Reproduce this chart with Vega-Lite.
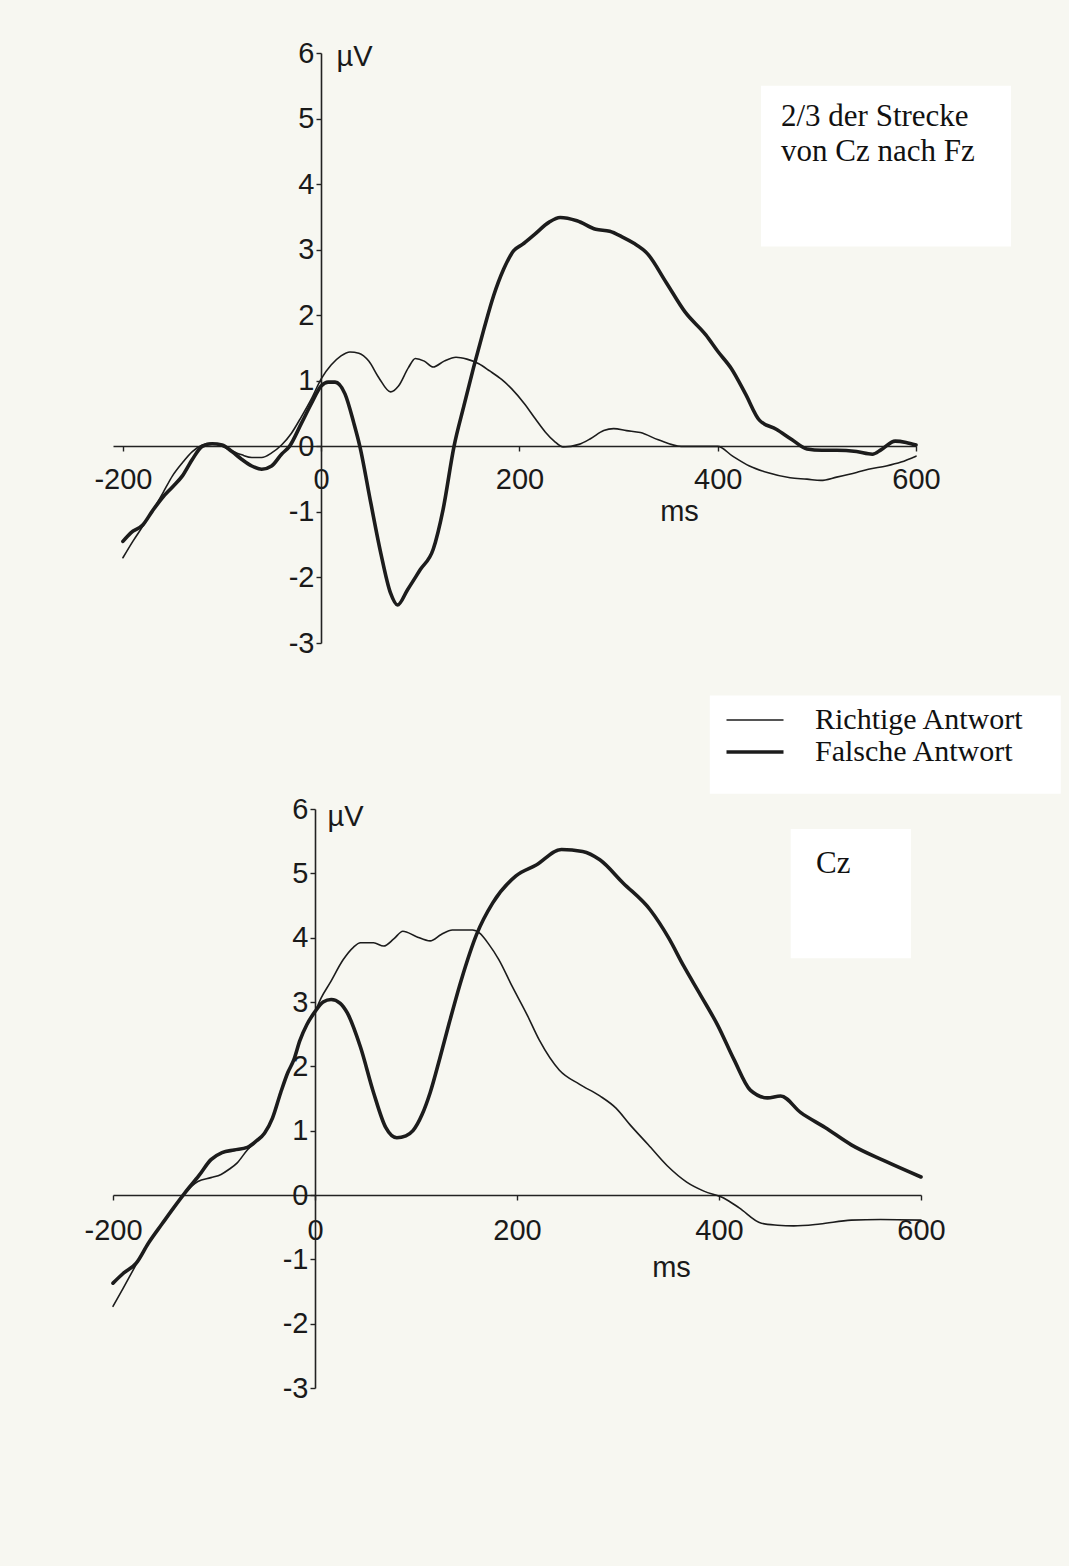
{
 "$schema": "https://vega.github.io/schema/vega-lite/v6.json",
 "background": "#f7f7f1",
 "padding": {"left": 83, "top": 39, "right": 59, "bottom": 166},
 "config": {"view": {"stroke": null}, "axis": {"grid": false}},
 "bounds": "flush",
 "spacing": 166,
 "datasets": {
  "erp": [
   {"panel":"top","cond":"Richtige Antwort","ms":-200,"uv":-1.70},{"panel":"top","cond":"Richtige Antwort","ms":-190,"uv":-1.45},{"panel":"top","cond":"Richtige Antwort","ms":-180,"uv":-1.22},{"panel":"top","cond":"Richtige Antwort","ms":-170,"uv":-0.98},{"panel":"top","cond":"Richtige Antwort","ms":-160,"uv":-0.72},{"panel":"top","cond":"Richtige Antwort","ms":-150,"uv":-0.45},{"panel":"top","cond":"Richtige Antwort","ms":-140,"uv":-0.25},{"panel":"top","cond":"Richtige Antwort","ms":-130,"uv":-0.08},{"panel":"top","cond":"Richtige Antwort","ms":-120,"uv":0.02},{"panel":"top","cond":"Richtige Antwort","ms":-112,"uv":0.05},{"panel":"top","cond":"Richtige Antwort","ms":-100,"uv":0.0},{"panel":"top","cond":"Richtige Antwort","ms":-90,"uv":-0.07},{"panel":"top","cond":"Richtige Antwort","ms":-80,"uv":-0.13},{"panel":"top","cond":"Richtige Antwort","ms":-70,"uv":-0.17},{"panel":"top","cond":"Richtige Antwort","ms":-60,"uv":-0.17},{"panel":"top","cond":"Richtige Antwort","ms":-50,"uv":-0.1},{"panel":"top","cond":"Richtige Antwort","ms":-40,"uv":0.02},{"panel":"top","cond":"Richtige Antwort","ms":-30,"uv":0.2},{"panel":"top","cond":"Richtige Antwort","ms":-20,"uv":0.45},{"panel":"top","cond":"Richtige Antwort","ms":-10,"uv":0.72},{"panel":"top","cond":"Richtige Antwort","ms":0,"uv":1.03},{"panel":"top","cond":"Richtige Antwort","ms":10,"uv":1.24},{"panel":"top","cond":"Richtige Antwort","ms":20,"uv":1.38},{"panel":"top","cond":"Richtige Antwort","ms":29,"uv":1.44},{"panel":"top","cond":"Richtige Antwort","ms":38,"uv":1.42},{"panel":"top","cond":"Richtige Antwort","ms":48,"uv":1.3},{"panel":"top","cond":"Richtige Antwort","ms":58,"uv":1.05},{"panel":"top","cond":"Richtige Antwort","ms":70,"uv":0.83},{"panel":"top","cond":"Richtige Antwort","ms":78,"uv":0.92},{"panel":"top","cond":"Richtige Antwort","ms":88,"uv":1.2},{"panel":"top","cond":"Richtige Antwort","ms":95,"uv":1.34},{"panel":"top","cond":"Richtige Antwort","ms":104,"uv":1.3},{"panel":"top","cond":"Richtige Antwort","ms":113,"uv":1.21},{"panel":"top","cond":"Richtige Antwort","ms":124,"uv":1.3},{"panel":"top","cond":"Richtige Antwort","ms":136,"uv":1.36},{"panel":"top","cond":"Richtige Antwort","ms":147,"uv":1.33},{"panel":"top","cond":"Richtige Antwort","ms":159,"uv":1.26},{"panel":"top","cond":"Richtige Antwort","ms":170,"uv":1.15},{"panel":"top","cond":"Richtige Antwort","ms":182,"uv":1.02},{"panel":"top","cond":"Richtige Antwort","ms":192,"uv":0.88},{"panel":"top","cond":"Richtige Antwort","ms":205,"uv":0.65},{"panel":"top","cond":"Richtige Antwort","ms":216,"uv":0.42},{"panel":"top","cond":"Richtige Antwort","ms":226,"uv":0.22},{"panel":"top","cond":"Richtige Antwort","ms":235,"uv":0.08},{"panel":"top","cond":"Richtige Antwort","ms":244,"uv":-0.01},{"panel":"top","cond":"Richtige Antwort","ms":260,"uv":0.03},{"panel":"top","cond":"Richtige Antwort","ms":272,"uv":0.12},{"panel":"top","cond":"Richtige Antwort","ms":285,"uv":0.24},{"panel":"top","cond":"Richtige Antwort","ms":295,"uv":0.27},{"panel":"top","cond":"Richtige Antwort","ms":308,"uv":0.24},{"panel":"top","cond":"Richtige Antwort","ms":322,"uv":0.21},{"panel":"top","cond":"Richtige Antwort","ms":340,"uv":0.1},{"panel":"top","cond":"Richtige Antwort","ms":363,"uv":0.0},{"panel":"top","cond":"Richtige Antwort","ms":380,"uv":0.0},{"panel":"top","cond":"Richtige Antwort","ms":400,"uv":0.0},{"panel":"top","cond":"Richtige Antwort","ms":415,"uv":-0.15},{"panel":"top","cond":"Richtige Antwort","ms":432,"uv":-0.3},{"panel":"top","cond":"Richtige Antwort","ms":450,"uv":-0.4},{"panel":"top","cond":"Richtige Antwort","ms":473,"uv":-0.48},{"panel":"top","cond":"Richtige Antwort","ms":490,"uv":-0.5},{"panel":"top","cond":"Richtige Antwort","ms":504,"uv":-0.52},{"panel":"top","cond":"Richtige Antwort","ms":520,"uv":-0.47},{"panel":"top","cond":"Richtige Antwort","ms":540,"uv":-0.4},{"panel":"top","cond":"Richtige Antwort","ms":552,"uv":-0.35},{"panel":"top","cond":"Richtige Antwort","ms":570,"uv":-0.3},{"panel":"top","cond":"Richtige Antwort","ms":585,"uv":-0.24},{"panel":"top","cond":"Richtige Antwort","ms":600,"uv":-0.15},
   {"panel":"top","cond":"Falsche Antwort","ms":-200,"uv":-1.45},{"panel":"top","cond":"Falsche Antwort","ms":-192,"uv":-1.32},{"panel":"top","cond":"Falsche Antwort","ms":-180,"uv":-1.2},{"panel":"top","cond":"Falsche Antwort","ms":-170,"uv":-0.98},{"panel":"top","cond":"Falsche Antwort","ms":-160,"uv":-0.78},{"panel":"top","cond":"Falsche Antwort","ms":-150,"uv":-0.62},{"panel":"top","cond":"Falsche Antwort","ms":-140,"uv":-0.45},{"panel":"top","cond":"Falsche Antwort","ms":-130,"uv":-0.2},{"panel":"top","cond":"Falsche Antwort","ms":-120,"uv":0.0},{"panel":"top","cond":"Falsche Antwort","ms":-110,"uv":0.04},{"panel":"top","cond":"Falsche Antwort","ms":-100,"uv":0.02},{"panel":"top","cond":"Falsche Antwort","ms":-90,"uv":-0.08},{"panel":"top","cond":"Falsche Antwort","ms":-80,"uv":-0.2},{"panel":"top","cond":"Falsche Antwort","ms":-70,"uv":-0.3},{"panel":"top","cond":"Falsche Antwort","ms":-60,"uv":-0.35},{"panel":"top","cond":"Falsche Antwort","ms":-50,"uv":-0.3},{"panel":"top","cond":"Falsche Antwort","ms":-40,"uv":-0.12},{"panel":"top","cond":"Falsche Antwort","ms":-32,"uv":0.0},{"panel":"top","cond":"Falsche Antwort","ms":-20,"uv":0.35},{"panel":"top","cond":"Falsche Antwort","ms":-10,"uv":0.65},{"panel":"top","cond":"Falsche Antwort","ms":0,"uv":0.92},{"panel":"top","cond":"Falsche Antwort","ms":7,"uv":0.98},{"panel":"top","cond":"Falsche Antwort","ms":14,"uv":0.98},{"panel":"top","cond":"Falsche Antwort","ms":24,"uv":0.8},{"panel":"top","cond":"Falsche Antwort","ms":33,"uv":0.35},{"panel":"top","cond":"Falsche Antwort","ms":39,"uv":0.0},{"panel":"top","cond":"Falsche Antwort","ms":50,"uv":-0.86},{"panel":"top","cond":"Falsche Antwort","ms":60,"uv":-1.62},{"panel":"top","cond":"Falsche Antwort","ms":70,"uv":-2.24},{"panel":"top","cond":"Falsche Antwort","ms":77,"uv":-2.42},{"panel":"top","cond":"Falsche Antwort","ms":87,"uv":-2.19},{"panel":"top","cond":"Falsche Antwort","ms":100,"uv":-1.88},{"panel":"top","cond":"Falsche Antwort","ms":113,"uv":-1.57},{"panel":"top","cond":"Falsche Antwort","ms":123,"uv":-0.96},{"panel":"top","cond":"Falsche Antwort","ms":134,"uv":0.0},{"panel":"top","cond":"Falsche Antwort","ms":144,"uv":0.62},{"panel":"top","cond":"Falsche Antwort","ms":154,"uv":1.22},{"panel":"top","cond":"Falsche Antwort","ms":164,"uv":1.78},{"panel":"top","cond":"Falsche Antwort","ms":174,"uv":2.3},{"panel":"top","cond":"Falsche Antwort","ms":184,"uv":2.7},{"panel":"top","cond":"Falsche Antwort","ms":194,"uv":2.98},{"panel":"top","cond":"Falsche Antwort","ms":203,"uv":3.08},{"panel":"top","cond":"Falsche Antwort","ms":215,"uv":3.23},{"panel":"top","cond":"Falsche Antwort","ms":230,"uv":3.42},{"panel":"top","cond":"Falsche Antwort","ms":241,"uv":3.49},{"panel":"top","cond":"Falsche Antwort","ms":258,"uv":3.44},{"panel":"top","cond":"Falsche Antwort","ms":277,"uv":3.31},{"panel":"top","cond":"Falsche Antwort","ms":291,"uv":3.28},{"panel":"top","cond":"Falsche Antwort","ms":303,"uv":3.2},{"panel":"top","cond":"Falsche Antwort","ms":315,"uv":3.1},{"panel":"top","cond":"Falsche Antwort","ms":329,"uv":2.94},{"panel":"top","cond":"Falsche Antwort","ms":348,"uv":2.5},{"panel":"top","cond":"Falsche Antwort","ms":367,"uv":2.05},{"panel":"top","cond":"Falsche Antwort","ms":388,"uv":1.7},{"panel":"top","cond":"Falsche Antwort","ms":400,"uv":1.45},{"panel":"top","cond":"Falsche Antwort","ms":414,"uv":1.18},{"panel":"top","cond":"Falsche Antwort","ms":428,"uv":0.8},{"panel":"top","cond":"Falsche Antwort","ms":442,"uv":0.4},{"panel":"top","cond":"Falsche Antwort","ms":459,"uv":0.26},{"panel":"top","cond":"Falsche Antwort","ms":475,"uv":0.1},{"panel":"top","cond":"Falsche Antwort","ms":490,"uv":-0.04},{"panel":"top","cond":"Falsche Antwort","ms":505,"uv":-0.06},{"panel":"top","cond":"Falsche Antwort","ms":520,"uv":-0.06},{"panel":"top","cond":"Falsche Antwort","ms":540,"uv":-0.08},{"panel":"top","cond":"Falsche Antwort","ms":556,"uv":-0.12},{"panel":"top","cond":"Falsche Antwort","ms":565,"uv":-0.05},{"panel":"top","cond":"Falsche Antwort","ms":579,"uv":0.08},{"panel":"top","cond":"Falsche Antwort","ms":590,"uv":0.06},{"panel":"top","cond":"Falsche Antwort","ms":600,"uv":0.02},
   {"panel":"bottom","cond":"Richtige Antwort","ms":-200,"uv":-1.73},{"panel":"bottom","cond":"Richtige Antwort","ms":-190,"uv":-1.45},{"panel":"bottom","cond":"Richtige Antwort","ms":-177,"uv":-1.08},{"panel":"bottom","cond":"Richtige Antwort","ms":-165,"uv":-0.75},{"panel":"bottom","cond":"Richtige Antwort","ms":-151,"uv":-0.44},{"panel":"bottom","cond":"Richtige Antwort","ms":-140,"uv":-0.2},{"panel":"bottom","cond":"Richtige Antwort","ms":-129,"uv":0.03},{"panel":"bottom","cond":"Richtige Antwort","ms":-116,"uv":0.21},{"panel":"bottom","cond":"Richtige Antwort","ms":-103,"uv":0.27},{"panel":"bottom","cond":"Richtige Antwort","ms":-93,"uv":0.32},{"panel":"bottom","cond":"Richtige Antwort","ms":-85,"uv":0.4},{"panel":"bottom","cond":"Richtige Antwort","ms":-77,"uv":0.5},{"panel":"bottom","cond":"Richtige Antwort","ms":-67,"uv":0.7},{"panel":"bottom","cond":"Richtige Antwort","ms":-58,"uv":0.84},{"panel":"bottom","cond":"Richtige Antwort","ms":-50,"uv":0.96},{"panel":"bottom","cond":"Richtige Antwort","ms":-42,"uv":1.2},{"panel":"bottom","cond":"Richtige Antwort","ms":-34,"uv":1.59},{"panel":"bottom","cond":"Richtige Antwort","ms":-27,"uv":1.9},{"panel":"bottom","cond":"Richtige Antwort","ms":-21,"uv":2.1},{"panel":"bottom","cond":"Richtige Antwort","ms":-15,"uv":2.4},{"panel":"bottom","cond":"Richtige Antwort","ms":-8,"uv":2.65},{"panel":"bottom","cond":"Richtige Antwort","ms":0,"uv":2.85},{"panel":"bottom","cond":"Richtige Antwort","ms":6,"uv":3.06},{"panel":"bottom","cond":"Richtige Antwort","ms":15,"uv":3.3},{"panel":"bottom","cond":"Richtige Antwort","ms":28,"uv":3.66},{"panel":"bottom","cond":"Richtige Antwort","ms":38,"uv":3.85},{"panel":"bottom","cond":"Richtige Antwort","ms":45,"uv":3.92},{"panel":"bottom","cond":"Richtige Antwort","ms":58,"uv":3.92},{"panel":"bottom","cond":"Richtige Antwort","ms":68,"uv":3.87},{"panel":"bottom","cond":"Richtige Antwort","ms":78,"uv":3.98},{"panel":"bottom","cond":"Richtige Antwort","ms":87,"uv":4.1},{"panel":"bottom","cond":"Richtige Antwort","ms":100,"uv":4.02},{"panel":"bottom","cond":"Richtige Antwort","ms":114,"uv":3.95},{"panel":"bottom","cond":"Richtige Antwort","ms":125,"uv":4.05},{"panel":"bottom","cond":"Richtige Antwort","ms":136,"uv":4.12},{"panel":"bottom","cond":"Richtige Antwort","ms":156,"uv":4.12},{"panel":"bottom","cond":"Richtige Antwort","ms":163,"uv":4.07},{"panel":"bottom","cond":"Richtige Antwort","ms":172,"uv":3.9},{"panel":"bottom","cond":"Richtige Antwort","ms":182,"uv":3.66},{"panel":"bottom","cond":"Richtige Antwort","ms":195,"uv":3.25},{"panel":"bottom","cond":"Richtige Antwort","ms":210,"uv":2.8},{"panel":"bottom","cond":"Richtige Antwort","ms":222,"uv":2.41},{"panel":"bottom","cond":"Richtige Antwort","ms":242,"uv":1.94},{"panel":"bottom","cond":"Richtige Antwort","ms":262,"uv":1.72},{"panel":"bottom","cond":"Richtige Antwort","ms":282,"uv":1.54},{"panel":"bottom","cond":"Richtige Antwort","ms":298,"uv":1.35},{"panel":"bottom","cond":"Richtige Antwort","ms":312,"uv":1.09},{"panel":"bottom","cond":"Richtige Antwort","ms":330,"uv":0.78},{"panel":"bottom","cond":"Richtige Antwort","ms":349,"uv":0.45},{"panel":"bottom","cond":"Richtige Antwort","ms":368,"uv":0.2},{"panel":"bottom","cond":"Richtige Antwort","ms":385,"uv":0.06},{"panel":"bottom","cond":"Richtige Antwort","ms":405,"uv":-0.05},{"panel":"bottom","cond":"Richtige Antwort","ms":420,"uv":-0.2},{"panel":"bottom","cond":"Richtige Antwort","ms":442,"uv":-0.44},{"panel":"bottom","cond":"Richtige Antwort","ms":458,"uv":-0.47},{"panel":"bottom","cond":"Richtige Antwort","ms":474,"uv":-0.48},{"panel":"bottom","cond":"Richtige Antwort","ms":500,"uv":-0.45},{"panel":"bottom","cond":"Richtige Antwort","ms":531,"uv":-0.39},{"panel":"bottom","cond":"Richtige Antwort","ms":560,"uv":-0.38},{"panel":"bottom","cond":"Richtige Antwort","ms":600,"uv":-0.39},
   {"panel":"bottom","cond":"Falsche Antwort","ms":-200,"uv":-1.37},{"panel":"bottom","cond":"Falsche Antwort","ms":-190,"uv":-1.22},{"panel":"bottom","cond":"Falsche Antwort","ms":-177,"uv":-1.06},{"panel":"bottom","cond":"Falsche Antwort","ms":-165,"uv":-0.75},{"panel":"bottom","cond":"Falsche Antwort","ms":-151,"uv":-0.44},{"panel":"bottom","cond":"Falsche Antwort","ms":-140,"uv":-0.2},{"panel":"bottom","cond":"Falsche Antwort","ms":-129,"uv":0.03},{"panel":"bottom","cond":"Falsche Antwort","ms":-115,"uv":0.3},{"panel":"bottom","cond":"Falsche Antwort","ms":-103,"uv":0.55},{"panel":"bottom","cond":"Falsche Antwort","ms":-92,"uv":0.66},{"panel":"bottom","cond":"Falsche Antwort","ms":-80,"uv":0.7},{"panel":"bottom","cond":"Falsche Antwort","ms":-67,"uv":0.74},{"panel":"bottom","cond":"Falsche Antwort","ms":-58,"uv":0.84},{"panel":"bottom","cond":"Falsche Antwort","ms":-50,"uv":0.96},{"panel":"bottom","cond":"Falsche Antwort","ms":-42,"uv":1.2},{"panel":"bottom","cond":"Falsche Antwort","ms":-34,"uv":1.59},{"panel":"bottom","cond":"Falsche Antwort","ms":-27,"uv":1.9},{"panel":"bottom","cond":"Falsche Antwort","ms":-21,"uv":2.1},{"panel":"bottom","cond":"Falsche Antwort","ms":-15,"uv":2.4},{"panel":"bottom","cond":"Falsche Antwort","ms":-8,"uv":2.65},{"panel":"bottom","cond":"Falsche Antwort","ms":0,"uv":2.85},{"panel":"bottom","cond":"Falsche Antwort","ms":8,"uv":3.0},{"panel":"bottom","cond":"Falsche Antwort","ms":16,"uv":3.04},{"panel":"bottom","cond":"Falsche Antwort","ms":25,"uv":2.98},{"panel":"bottom","cond":"Falsche Antwort","ms":32,"uv":2.83},{"panel":"bottom","cond":"Falsche Antwort","ms":45,"uv":2.3},{"panel":"bottom","cond":"Falsche Antwort","ms":58,"uv":1.59},{"panel":"bottom","cond":"Falsche Antwort","ms":70,"uv":1.05},{"panel":"bottom","cond":"Falsche Antwort","ms":81,"uv":0.89},{"panel":"bottom","cond":"Falsche Antwort","ms":90,"uv":0.92},{"panel":"bottom","cond":"Falsche Antwort","ms":97,"uv":1.0},{"panel":"bottom","cond":"Falsche Antwort","ms":106,"uv":1.25},{"panel":"bottom","cond":"Falsche Antwort","ms":114,"uv":1.59},{"panel":"bottom","cond":"Falsche Antwort","ms":124,"uv":2.15},{"panel":"bottom","cond":"Falsche Antwort","ms":133,"uv":2.68},{"panel":"bottom","cond":"Falsche Antwort","ms":145,"uv":3.35},{"panel":"bottom","cond":"Falsche Antwort","ms":160,"uv":4.05},{"panel":"bottom","cond":"Falsche Antwort","ms":176,"uv":4.54},{"panel":"bottom","cond":"Falsche Antwort","ms":199,"uv":4.96},{"panel":"bottom","cond":"Falsche Antwort","ms":219,"uv":5.13},{"panel":"bottom","cond":"Falsche Antwort","ms":244,"uv":5.37},{"panel":"bottom","cond":"Falsche Antwort","ms":265,"uv":5.34},{"panel":"bottom","cond":"Falsche Antwort","ms":282,"uv":5.21},{"panel":"bottom","cond":"Falsche Antwort","ms":305,"uv":4.85},{"panel":"bottom","cond":"Falsche Antwort","ms":332,"uv":4.43},{"panel":"bottom","cond":"Falsche Antwort","ms":350,"uv":4.0},{"panel":"bottom","cond":"Falsche Antwort","ms":365,"uv":3.56},{"panel":"bottom","cond":"Falsche Antwort","ms":382,"uv":3.1},{"panel":"bottom","cond":"Falsche Antwort","ms":399,"uv":2.63},{"panel":"bottom","cond":"Falsche Antwort","ms":415,"uv":2.1},{"panel":"bottom","cond":"Falsche Antwort","ms":431,"uv":1.63},{"panel":"bottom","cond":"Falsche Antwort","ms":448,"uv":1.51},{"panel":"bottom","cond":"Falsche Antwort","ms":461,"uv":1.54},{"panel":"bottom","cond":"Falsche Antwort","ms":481,"uv":1.28},{"panel":"bottom","cond":"Falsche Antwort","ms":505,"uv":1.05},{"panel":"bottom","cond":"Falsche Antwort","ms":531,"uv":0.78},{"panel":"bottom","cond":"Falsche Antwort","ms":564,"uv":0.53},{"panel":"bottom","cond":"Falsche Antwort","ms":600,"uv":0.28}
  ]
 },
 "vconcat": [
  {
   "width": 803, "height": 590,
   "layer": [
    {"data": {"values": [{}]}, "mark": {"type": "rect", "color": "#ffffff"},
     "encoding": {"x": {"datum": 443.6, "type": "quantitative", "scale": {"domain": [-210, 600]}}, "x2": {"datum": 695.8},
                  "y": {"datum": 5.5, "type": "quantitative", "scale": {"domain": [-3, 6]}}, "y2": {"datum": 3.05}}},
    {"data": {"values": [{}]}, "mark": {"type": "rect", "color": "#ffffff"},
     "encoding": {"x": {"datum": 392, "type": "quantitative", "scale": {"domain": [-210, 600]}}, "x2": {"datum": 746},
                  "y": {"datum": -3.8, "type": "quantitative", "scale": {"domain": [-3, 6]}}, "y2": {"datum": -5.3}}},
    {"data": {"name": "erp"}, "transform": [{"filter": "datum.panel === 'top'"}],
     "mark": {"type": "line", "color": "#1c1c1c", "interpolate": "monotone", "strokeJoin": "round", "strokeCap": "round"},
     "encoding": {
      "x": {"field": "ms", "type": "quantitative", "scale": {"domain": [-210, 600]},
            "axis": {"values": [-200, 0, 200, 400, 600], "offset": -197, "domainColor": "#222", "domainWidth": 1.6, "tickColor": "#222", "tickWidth": 1.4, "tickSize": 5,
                     "labelFont": "Liberation Sans", "labelFontSize": 29, "labelColor": "#1a1a1a", "labelPadding": 14, "labelDx": 7, "labelFlush": false, "labelOverlap": false, "labelExpr": "'' + datum.value",
                     "title": "ms", "titleFont": "Liberation Sans", "titleFontSize": 29, "titleFontWeight": "normal", "titleColor": "#1a1a1a", "titleX": 566, "titleY": 74, "titleBaseline": "alphabetic", "titleAlign": "center"}},
      "y": {"field": "uv", "type": "quantitative", "scale": {"domain": [-3, 6]},
            "axis": {"values": [-3, -2, -1, 0, 1, 2, 3, 4, 5, 6], "offset": -208, "domainColor": "#222", "domainWidth": 1.6, "tickColor": "#222", "tickWidth": 1.4, "tickSize": 5,
                     "labelFont": "Liberation Sans", "labelFontSize": 29, "labelColor": "#1a1a1a", "labelPadding": 2, "labelExpr": "'' + datum.value", "labelOverlap": false,
                     "title": "µV", "titleFont": "Liberation Sans", "titleFontSize": 29, "titleFontWeight": "normal", "titleColor": "#1a1a1a", "titleAngle": 0, "titleX": 15, "titleY": 12, "titleAlign": "left", "titleBaseline": "alphabetic"}},
      "strokeWidth": {"field": "cond", "type": "nominal", "scale": {"domain": ["Richtige Antwort", "Falsche Antwort"], "range": [1.6, 3.6]},
            "legend": {"title": null, "orient": "none", "legendX": 625, "legendY": 651, "symbolType": "M-1.9,0H1.9", "symbolSize": 900, "symbolStrokeColor": "#1c1c1c",
                       "labelFont": "Liberation Serif", "labelFontSize": 30, "labelColor": "#111", "labelOffset": 43, "labelLimit": 0, "rowPadding": 0}}
     }},
    {"data": {"values": [{}]},
     "mark": {"type": "text", "font": "Liberation Serif", "fontSize": 31, "align": "left", "baseline": "alphabetic", "lineHeight": 35, "color": "#111", "text": ["2/3 der Strecke", "von Cz nach Fz"]},
     "encoding": {"x": {"datum": 463.8, "type": "quantitative", "scale": {"domain": [-210, 600]}}, "y": {"datum": 4.886, "type": "quantitative", "scale": {"domain": [-3, 6]}}}}
   ]
  },
  {
   "width": 808, "height": 579,
   "layer": [
    {"data": {"values": [{}]}, "mark": {"type": "rect", "color": "#ffffff"},
     "encoding": {"x": {"datum": 471, "type": "quantitative", "scale": {"domain": [-200, 600]}}, "x2": {"datum": 590},
                  "y": {"datum": 5.69, "type": "quantitative", "scale": {"domain": [-3, 6]}}, "y2": {"datum": 3.68}}},
    {"data": {"name": "erp"}, "transform": [{"filter": "datum.panel === 'bottom'"}],
     "mark": {"type": "line", "color": "#1c1c1c", "interpolate": "monotone", "strokeJoin": "round", "strokeCap": "round"},
     "encoding": {
      "x": {"field": "ms", "type": "quantitative", "scale": {"domain": [-200, 600]},
            "axis": {"values": [-200, 0, 200, 400, 600], "offset": -193, "domainColor": "#222", "domainWidth": 1.6, "tickColor": "#222", "tickWidth": 1.4, "tickSize": 5,
                     "labelFont": "Liberation Sans", "labelFontSize": 29, "labelColor": "#1a1a1a", "labelPadding": 16, "labelDx": 7, "labelFlush": false, "labelOverlap": false, "labelExpr": "'' + datum.value",
                     "title": "ms", "titleFont": "Liberation Sans", "titleFontSize": 29, "titleFontWeight": "normal", "titleColor": "#1a1a1a", "titleX": 558, "titleY": 81, "titleBaseline": "alphabetic", "titleAlign": "center"}},
      "y": {"field": "uv", "type": "quantitative", "scale": {"domain": [-3, 6]},
            "axis": {"values": [-3, -2, -1, 0, 1, 2, 3, 4, 5, 6], "offset": -202, "domainColor": "#222", "domainWidth": 1.6, "tickColor": "#222", "tickWidth": 1.4, "tickSize": 5,
                     "labelFont": "Liberation Sans", "labelFontSize": 29, "labelColor": "#1a1a1a", "labelPadding": 2, "labelExpr": "'' + datum.value", "labelOverlap": false,
                     "title": "µV", "titleFont": "Liberation Sans", "titleFontSize": 29, "titleFontWeight": "normal", "titleColor": "#1a1a1a", "titleAngle": 0, "titleX": 12, "titleY": 16, "titleAlign": "left", "titleBaseline": "alphabetic"}},
      "strokeWidth": {"field": "cond", "type": "nominal", "scale": {"domain": ["Richtige Antwort", "Falsche Antwort"], "range": [1.6, 3.6]},
            "legend": {"title": null, "orient": "none", "legendX": 625, "legendY": 651, "symbolType": "M-1.9,0H1.9", "symbolSize": 900, "symbolStrokeColor": "#1c1c1c",
                       "labelFont": "Liberation Serif", "labelFontSize": 30, "labelColor": "#111", "labelOffset": 43, "labelLimit": 0, "rowPadding": 0}}
     }},
    {"data": {"values": [{}]},
     "mark": {"type": "text", "font": "Liberation Serif", "fontSize": 31, "align": "left", "baseline": "alphabetic", "color": "#111", "text": "Cz"},
     "encoding": {"x": {"datum": 496, "type": "quantitative", "scale": {"domain": [-200, 600]}}, "y": {"datum": 5.0, "type": "quantitative", "scale": {"domain": [-3, 6]}}}}
   ]
  }
 ]
}
